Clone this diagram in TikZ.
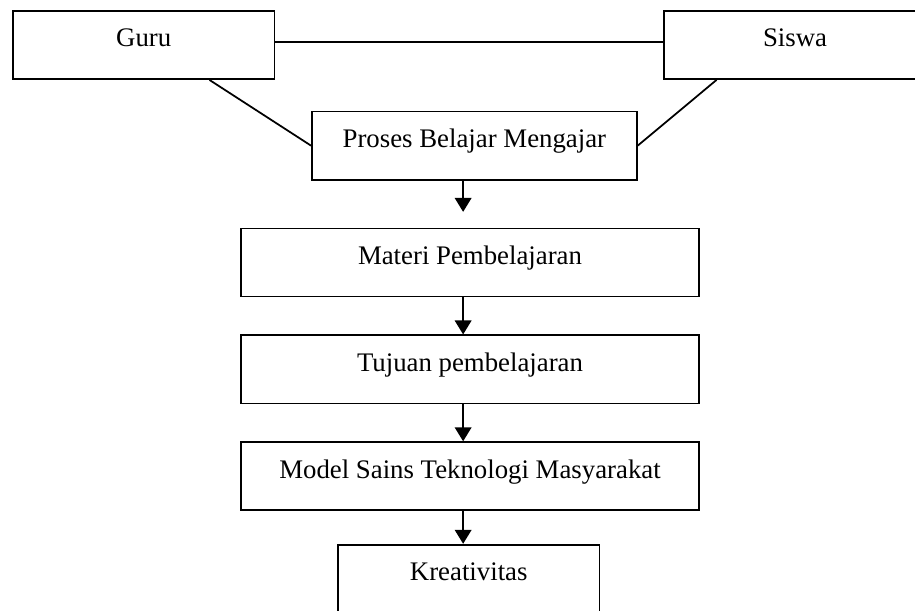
\documentclass[tikz,border=0pt]{standalone}
\usepackage{fontspec}
\setmainfont{Liberation Serif}
\usetikzlibrary{arrows.meta,positioning}
\tikzstyle{kotak} = [rectangle, minimum height=1.09cm, text height=8pt, text depth=6.2pt, text centered, draw=black, line width=0.8pt, font=\fontsize{12.2}{14}\selectfont]
\tikzstyle{link} = [line width=0.8pt]
\tikzstyle{arrow} = [line width=0.8pt,-{Triangle[width=7.6pt,length=6.4pt]}]

\begin{document}
\begin{tikzpicture}
\useasboundingbox (0,0) rectangle (14.64,-9.76);
\clip (0,0) rectangle (14.64,-9.76);

% Top row
\node[kotak, minimum width=4.18cm] (guru) at (2.3,-0.72) {Guru};
\node[kotak, minimum width=4.19cm] (siswa) at (12.72,-0.72) {Siswa};
\node[kotak, minimum width=5.2cm] (proses) at (7.59,-2.33) {Proses Belajar Mengajar};

% Main column
\node[kotak, minimum width=7.33cm] (materi) at (7.52,-4.2) {Materi Pembelajaran};
\node[kotak, minimum width=7.33cm] (tujuan) at (7.52,-5.91) {Tujuan pembelajaran};
\node[kotak, minimum width=7.33cm] (model) at (7.52,-7.62) {Model Sains Teknologi Masyarakat};
\node[kotak, minimum width=4.18cm] (kreatif) at (7.5,-9.26) {Kreativitas};

\coordinate (poros) at (7.41,0);
\coordinate (ujung) at (7.41,-3.39);

% Lines
\draw[link] ([yshift=1.4pt]guru.east) -- ([yshift=1.4pt]siswa.west);
\draw[link] (guru.-28) -- (proses.west);
\draw[link] (siswa.204) -- (proses.east);

% Arrows
\draw[arrow] (proses.south -| poros) -- (ujung);
\draw[arrow] (materi.south -| poros) -- (tujuan.north -| poros);
\draw[arrow] (tujuan.south -| poros) -- (model.north -| poros);
\draw[arrow] (model.south -| poros) -- (kreatif.north -| poros);
\end{tikzpicture}
\end{document}
